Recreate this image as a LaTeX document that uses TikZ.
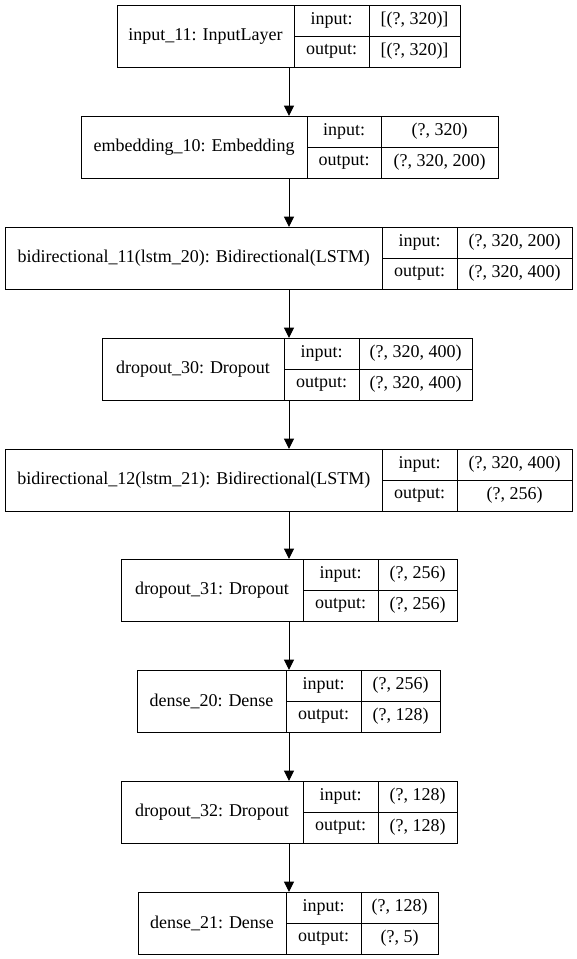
\documentclass[tikz,border=0pt]{standalone}
\usepackage{fontspec}
\setmainfont{Liberation Serif}
\usetikzlibrary{arrows.meta}
\tikzset{
  outerbox/.style={draw=black, line width=1pt, inner sep=0pt, outer sep=0pt},
  celltext/.style={inner sep=0pt, font=\fontsize{18}{20}\selectfont, anchor=center},
  divider/.style={draw=black, line width=1pt},
  flowarrow/.style={draw=black, line width=1pt, -{Triangle[length=10.5pt,width=10pt]}}
}
% #1 id, #2 top, #3 left, #4 d1, #5 d2, #6 right, #7 name, #8 in, #9 out
\newcommand{\lyr}[9]{%
  \node[outerbox, minimum width={(#6-#3)*1pt}, minimum height=62pt] (#1) at ({(#3+#6)/2}, {-#2-31}) {};
  \draw[divider] (#4, -#2) -- (#4, {-#2-62});
  \draw[divider] (#5, -#2) -- (#5, {-#2-62});
  \draw[divider] (#4, {-#2-31}) -- (#6, {-#2-31});
  \node[celltext] (#1-name) at ({(#3+#4)/2}, {-#2-31}) {#7};
  \node[celltext] (#1-inl) at ({(#4+#5)/2}, {-#2-15.5}) {input:};
  \node[celltext] (#1-outl) at ({(#4+#5)/2}, {-#2-46.5}) {output:};
  \node[celltext] (#1-inv) at ({(#5+#6)/2}, {-#2-15.5}) {#8};
  \node[celltext] (#1-outv) at ({(#5+#6)/2}, {-#2-46.5}) {#9};
}
\begin{document}
\begin{tikzpicture}[x=1pt, y=1pt]
\useasboundingbox (0,0) rectangle (577,-959);
\fill[white] (0,0) rectangle (577,-959);
\coordinate (col) at (289,0);
\lyr{l1}{5}{117}{294}{369}{460}{input\_11: InputLayer}{[(?, 320)]}{[(?, 320)]}
\lyr{l2}{116}{81}{307}{381}{498}{embedding\_10: Embedding}{(?, 320)}{(?, 320, 200)}
\lyr{l3}{227}{5.5}{382}{457}{572}{bidirectional\_11(lstm\_20): Bidirectional(LSTM)}{(?, 320, 200)}{(?, 320, 400)}
\lyr{l4}{338}{102}{284}{359}{472}{dropout\_30: Dropout}{(?, 320, 400)}{(?, 320, 400)}
\lyr{l5}{449}{5.5}{382}{457}{572}{bidirectional\_12(lstm\_21): Bidirectional(LSTM)}{(?, 320, 400)}{(?, 256)}
\lyr{l6}{559}{121}{303}{378}{457}{dropout\_31: Dropout}{(?, 256)}{(?, 256)}
\lyr{l7}{670}{137}{286}{361}{440}{dense\_20: Dense}{(?, 256)}{(?, 128)}
\lyr{l8}{781}{121}{303}{378}{457}{dropout\_32: Dropout}{(?, 128)}{(?, 128)}
\lyr{l9}{892}{138}{286}{361}{438}{dense\_21: Dense}{(?, 128)}{(?, 5)}
\foreach \a/\b in {l1/l2, l2/l3, l3/l4, l4/l5, l5/l6, l6/l7, l7/l8, l8/l9}{
  \draw[flowarrow] (col |- \a.south) -- (col |- \b.north);
}
\end{tikzpicture}
\end{document}
